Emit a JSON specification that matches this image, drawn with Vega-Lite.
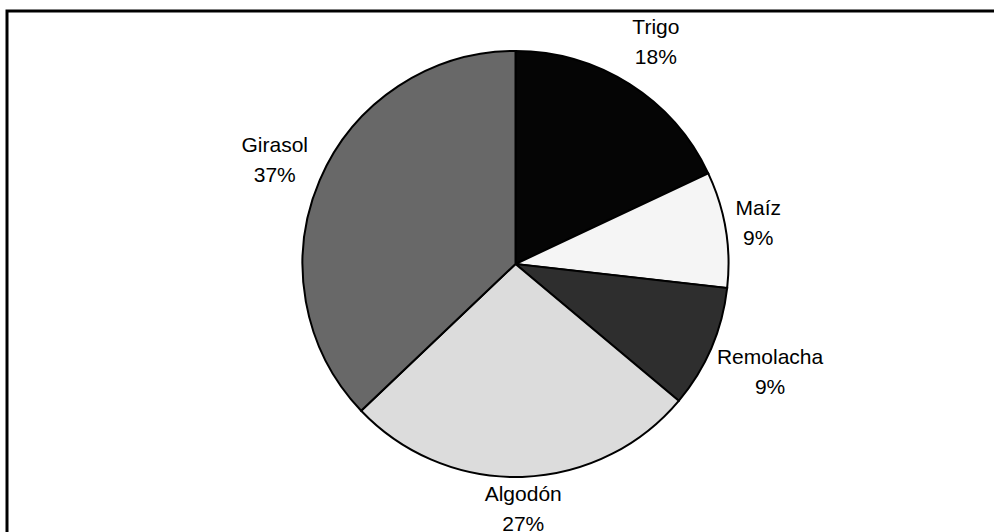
{
  "$schema": "https://vega.github.io/schema/vega-lite/v6.json",
  "width": 1017,
  "height": 540,
  "autosize": {"type": "none"},
  "padding": {"left": 7, "top": 11, "right": 0, "bottom": 0},
  "background": "white",
  "view": {"stroke": "black", "strokeWidth": 3, "fill": "white"},
  "config": {
    "view": {"stroke": "black", "strokeWidth": 3}
  },
  "data": {
    "values": [
      {"idx": 1, "crop": "Trigo", "share": 18.0, "label": "Trigo\n18%"},
      {"idx": 2, "crop": "Maíz", "share": 8.8, "label": "Maíz\n9%"},
      {"idx": 3, "crop": "Remolacha", "share": 9.3, "label": "Remolacha\n9%"},
      {"idx": 4, "crop": "Algodón", "share": 26.8, "label": "Algodón\n27%"},
      {"idx": 5, "crop": "Girasol", "share": 37.1, "label": "Girasol\n37%"}
    ]
  },
  "encoding": {
    "theta": {"field": "share", "type": "quantitative", "stack": true},
    "order": {"field": "idx", "type": "ordinal"}
  },
  "layer": [
    {
      "mark": {"type": "arc", "outerRadius": 213, "stroke": "black", "strokeWidth": 2, "yOffset": -17},
      "encoding": {
        "color": {
          "field": "crop",
          "type": "nominal",
          "scale": {
            "domain": ["Trigo", "Maíz", "Remolacha", "Algodón", "Girasol"],
            "range": ["#050505", "#f5f5f5", "#2e2e2e", "#dcdcdc", "#686868"]
          },
          "legend": null
        }
      }
    },
    {
      "mark": {"type": "text", "radius": 262, "yOffset": -32, "font": "Liberation Sans", "fontSize": 21, "lineBreak": "\n", "lineHeight": 30, "color": "black", "align": "center", "baseline": "middle"},
      "encoding": {
        "text": {"field": "label", "type": "nominal"},
        "opacity": {"condition": {"test": "datum.crop == 'Trigo' || datum.crop == 'Girasol'", "value": 1}, "value": 0}
      }
    },
    {
      "mark": {"type": "text", "radius": 246, "yOffset": -32, "font": "Liberation Sans", "fontSize": 21, "lineBreak": "\n", "lineHeight": 30, "color": "black", "align": "center", "baseline": "middle"},
      "encoding": {
        "text": {"field": "label", "type": "nominal"},
        "opacity": {"condition": {"test": "datum.crop == 'Maíz' || datum.crop == 'Algodón'", "value": 1}, "value": 0}
      }
    },
    {
      "mark": {"type": "text", "radius": 277, "yOffset": -32, "font": "Liberation Sans", "fontSize": 21, "lineBreak": "\n", "lineHeight": 30, "color": "black", "align": "center", "baseline": "middle"},
      "encoding": {
        "text": {"field": "label", "type": "nominal"},
        "opacity": {"condition": {"test": "datum.crop == 'Remolacha'", "value": 1}, "value": 0}
      }
    }
  ]
}
